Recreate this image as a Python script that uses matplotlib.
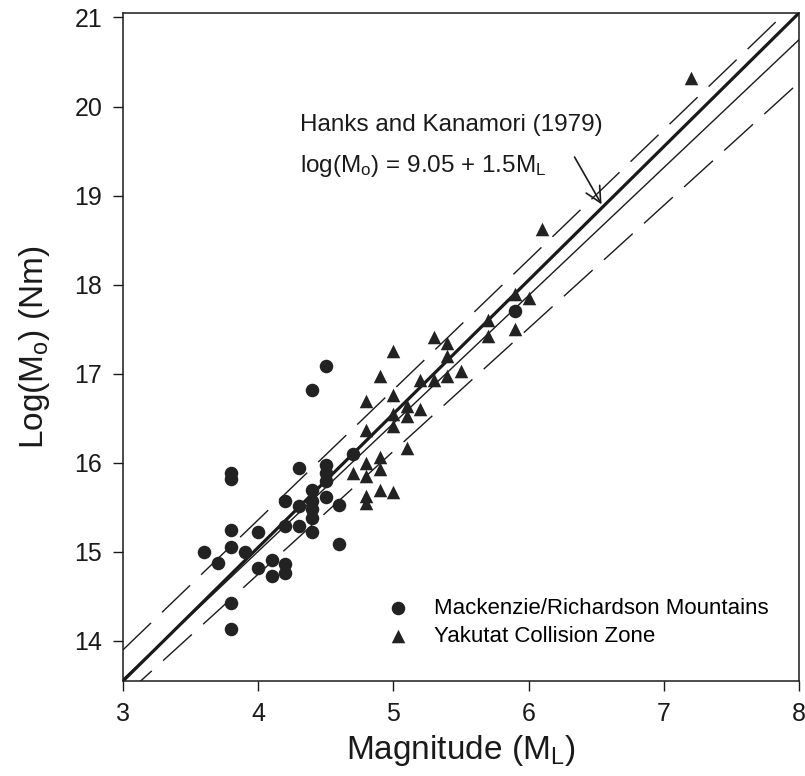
import matplotlib
matplotlib.use("Agg")
import matplotlib.pyplot as plt
import numpy as np

plt.rcParams['font.family'] = ['Liberation Sans', 'DejaVu Sans']
plt.rcParams['mathtext.default'] = 'regular'

# Mackenzie/Richardson Mountains (circles)
mack_ml = [3.6, 3.7, 3.8, 3.8, 3.8, 3.8, 3.8, 3.8, 3.9, 4.0, 4.0, 4.1, 4.1,
           4.2, 4.2, 4.2, 4.2, 4.3, 4.3, 4.3, 4.4, 4.4, 4.4, 4.4, 4.4, 4.4,
           4.5, 4.5, 4.5, 4.5, 4.5, 4.6, 4.6, 4.7, 5.9]
mack_mo = [15.00, 14.87, 15.88, 15.82, 15.24, 15.05, 14.43, 14.13, 15.00,
           15.22, 14.82, 14.91, 14.73, 14.86, 14.76, 15.57, 15.29, 15.94,
           15.52, 15.29, 15.70, 15.57, 15.48, 15.38, 15.22, 16.82, 15.97,
           15.89, 15.80, 15.62, 17.09, 15.53, 15.09, 16.10, 17.70]

# Yakutat Collision Zone (triangles)
yak_ml = [4.7, 4.8, 4.8, 4.8, 4.8, 4.8, 4.8, 4.9, 4.9, 4.9, 4.9, 5.0, 5.0,
          5.0, 5.0, 5.0, 5.1, 5.1, 5.1, 5.2, 5.2, 5.3, 5.3, 5.4, 5.4, 5.4,
          5.5, 5.7, 5.7, 5.9, 5.9, 6.0, 6.1, 7.2]
yak_mo = [15.88, 16.00, 15.85, 15.63, 15.55, 16.37, 16.69, 16.07, 15.93,
          15.70, 16.98, 15.67, 16.41, 16.55, 16.76, 17.26, 16.17, 16.52,
          16.64, 16.60, 16.93, 16.93, 17.41, 16.98, 17.20, 17.35, 17.03,
          17.42, 17.60, 17.50, 17.90, 17.85, 18.63, 20.32]

# line parameters (intercept, slope)
hk = (9.05, 1.5)          # Hanks and Kanamori (1979)
fit = (9.262, 1.436)      # regression
fit_hi = (9.52, 1.46)
fit_lo = (9.23, 1.38)

fig = plt.figure(figsize=(8.05, 7.76), dpi=100)
ax = fig.add_axes([0.1528, 0.1224, 0.8397, 0.8608])

xs = np.array([3.0, 8.0])
ink = '#1a1a1a'
ax.plot(xs, hk[0] + hk[1] * xs, color=ink, lw=2.3, zorder=3)
ax.plot(xs, fit[0] + fit[1] * xs, color=ink, lw=1.0, zorder=3)
for a, b in (fit_hi, fit_lo):
    ln, = ax.plot(xs, a + b * xs, color=ink, lw=1.0, zorder=3)
    ln.set_dashes([28, 11])

ax.scatter(mack_ml, mack_mo, s=95, marker='o', color='#222222', lw=0, zorder=4,
           label='Mackenzie/Richardson Mountains')
ax.scatter(yak_ml, yak_mo, s=95, marker='^', color='#222222', lw=0, zorder=4,
           label='Yakutat Collision Zone')

ax.text(4.31, 19.72, 'Hanks and Kanamori (1979)', fontsize=17.5, color=ink)
ax.text(4.31, 19.27, 'log(M$_o$) = 9.05 + 1.5M$_L$', fontsize=17.5, color=ink)
ax.annotate('', xy=(6.55, hk[0] + hk[1] * 6.55), xytext=(6.33, 19.46),
            arrowprops=dict(arrowstyle='->', lw=1.2, color=ink, mutation_scale=28))

ax.set_xlim(3, 8)
ax.set_ylim(13.55, 21.05)
ax.set_xticks(np.arange(3, 9))
ax.set_yticks(np.arange(14, 22))
ax.tick_params(direction='out', length=7, width=1, labelsize=18, colors=ink,
               pad=8)
for sp in ax.spines.values():
    sp.set_linewidth(1.1)
    sp.set_color(ink)

ax.set_xlabel('Magnitude (M$_L$)', fontsize=24, color=ink, labelpad=5)
ax.set_ylabel('Log(M$_o$) (Nm)', fontsize=24, color=ink, labelpad=16)

ax.legend(loc='center left', bbox_to_anchor=(0.345, 0.088), frameon=False,
          fontsize=16, handletextpad=0.6, labelspacing=0.3, scatterpoints=1,
          markerscale=1.0)

fig.savefig('out.png', dpi=100)
